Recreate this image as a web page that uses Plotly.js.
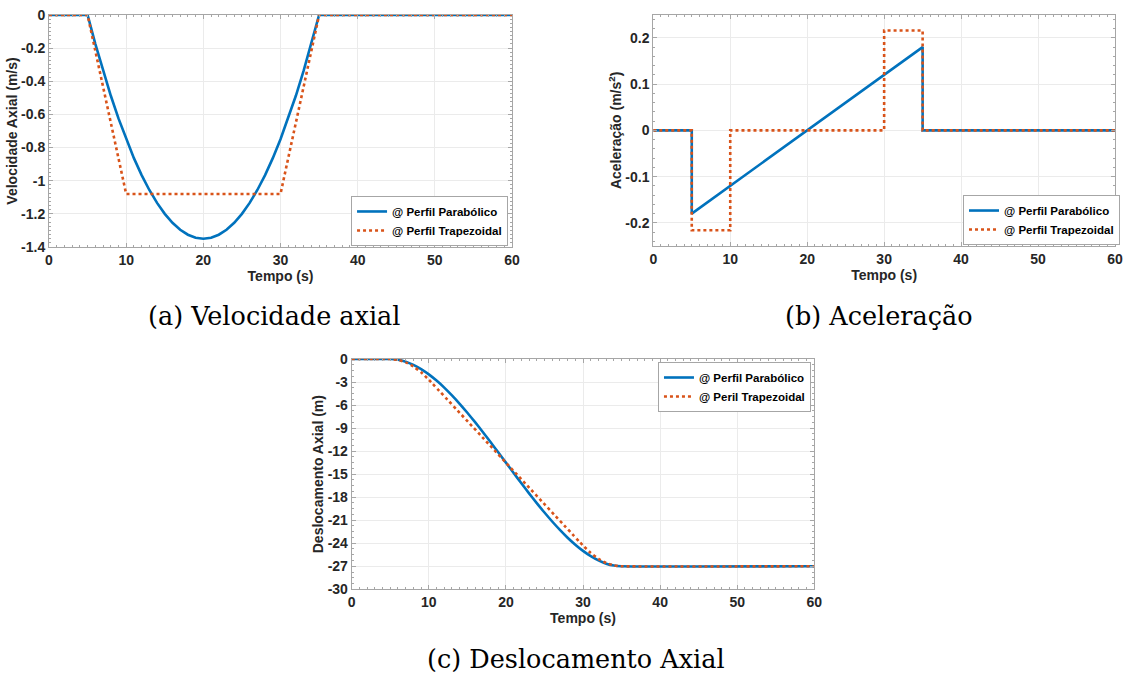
<!DOCTYPE html>
<html>
<head>
<meta charset="utf-8">
<script src="https://cdn.plot.ly/plotly-3.0.1.min.js"></script>
<style>
html,body{margin:0;padding:0;background:#fff;}
#chart{width:1132px;height:675px;}
</style>
</head>
<body>
<div id="chart"></div>
<script>
// ---- Data ----
// (a) Velocity
const velParT = [0,5,6,7,8,9,10,11,12,13,14,15,16,17,18,19,20,21,22,23,24,25,26,27,28,29,30,31,32,33,34,35,60];
const velParV = [0,0,-0.174,-0.336,-0.486,-0.624,-0.75,-0.864,-0.966,-1.056,-1.134,-1.2,-1.254,-1.296,-1.326,-1.344,-1.35,-1.344,-1.326,-1.296,-1.254,-1.2,-1.134,-1.056,-0.966,-0.864,-0.75,-0.624,-0.486,-0.336,-0.174,0,0];
const velTrapT = [0,5,10,30,35,60];
const velTrapV = [0,0,-1.08,-1.08,0,0];

// (b) Acceleration
const accParT = [0,5,5,35,35,60];
const accParV = [0,0,-0.18,0.18,0,0];
const accTrapT = [0,5,5,10,10,30,30,35,35,60];
const accTrapV = [0,0,-0.216,-0.216,0,0,0.216,0.216,0,0];

// (c) Displacement
const dispParT = [0,5,6,7,8,9,10,11,12,13,14,15,16,17,18,19,20,21,22,23,24,25,26,27,28,29,30,31,32,33,34,35,60];
const dispParV = [0,0,-0.09,-0.34,-0.76,-1.31,-2.0,-2.81,-3.72,-4.74,-5.83,-7.0,-8.23,-9.5,-10.82,-12.15,-13.5,-14.85,-16.18,-17.5,-18.77,-20.0,-21.17,-22.26,-23.28,-24.19,-25.0,-25.69,-26.24,-26.66,-26.91,-27.0,-27.0];
const dispTrapT = [0,5,6,7,8,9,10,30,31,32,33,34,35,60];
const dispTrapV = [0,0,-0.11,-0.43,-0.97,-1.73,-2.7,-24.3,-25.27,-26.03,-26.57,-26.89,-27.0,-27.0];

// Tick labels
const xTicks = [0,10,20,30,40,50,60];
const velTicks = [0,-0.2,-0.4,-0.6,-0.8,-1,-1.2,-1.4];
const velTickText = ['0','-0.2','-0.4','-0.6','-0.8','-1','-1.2','-1.4'];
const accTicks = [-0.2,-0.1,0,0.1,0.2];
const accTickText = ['-0.2','-0.1','0','0.1','0.2'];
const dispTicks = [0,-3,-6,-9,-12,-15,-18,-21,-24,-27,-30];
const dispTickText = ['0','-3','-6','-9','-12','-15','-18','-21','-24','-27','-30'];

const nameParab = '@ Perfil Parabólico';
const nameTrap = '@ Perfil Trapezoidal';
const nameTrapC = '@ Peril Trapezoidal';

// ---- Styles ----
const BLUE = '#0072BD', ORANGE = '#D95319';
const FONT = 'Liberation Sans, Arial, sans-serif';
const tickFont = {family: FONT, size: 14, color: '#262626', weight: 700};
const titleFont = {family: FONT, size: 14, color: '#262626', weight: 700};
const legFont = {family: FONT, size: 11.5, color: '#000', weight: 700};
const capFont = {family:'DejaVu Serif, Liberation Serif, serif', size:25.5, color:'#000'};

function xaxis(domain, anchor){
  return {domain: domain, anchor: anchor, range:[0,60], tickvals: xTicks, ticktext: xTicks.map(String),
    showgrid:true, gridcolor:'#ebebeb', gridwidth:1, zeroline:false, showline:true, linecolor:'#a6a6a6', linewidth:1,
    mirror:'ticks', ticks:'inside', ticklen:4, tickcolor:'#a6a6a6', tickfont: tickFont,
    minor:{ticks:'inside', dtick:1, ticklen:2, tickcolor:'#a6a6a6'},
    title:{text:'Tempo (s)', font:titleFont, standoff:1}};
}
function yaxis(domain, anchor, range, tv, tt, minor, title){
  return {domain: domain, anchor: anchor, range: range, tickvals: tv, ticktext: tt,
    showgrid:true, gridcolor:'#ebebeb', gridwidth:1, zeroline:false, showline:true, linecolor:'#a6a6a6', linewidth:1,
    mirror:'ticks', ticks:'inside', ticklen:4, tickcolor:'#a6a6a6', tickfont: tickFont,
    minor:{ticks:'inside', dtick:minor, tick0:0, ticklen:2, tickcolor:'#a6a6a6'},
    title:{text:title, font:titleFont, standoff:0}};
}

const lw = 2.6;
const traces = [
  {x: velParT, y: velParV, xaxis:'x', yaxis:'y', mode:'lines', name:nameParab, legend:'legend', line:{color:BLUE, width:lw}},
  {x: velTrapT, y: velTrapV, xaxis:'x', yaxis:'y', mode:'lines', name:nameTrap, legend:'legend', line:{color:ORANGE, width:lw, dash:'dot'}},
  {x: accParT, y: accParV, xaxis:'x2', yaxis:'y2', mode:'lines', name:nameParab, legend:'legend2', line:{color:BLUE, width:lw}},
  {x: accTrapT, y: accTrapV, xaxis:'x2', yaxis:'y2', mode:'lines', name:nameTrap, legend:'legend2', line:{color:ORANGE, width:lw, dash:'dot'}},
  {x: dispParT, y: dispParV, xaxis:'x3', yaxis:'y3', mode:'lines', line:{color:BLUE, width:lw, shape:'spline', smoothing:0.6}, name:nameParab, legend:'legend3'},
  {x: dispTrapT, y: dispTrapV, xaxis:'x3', yaxis:'y3', mode:'lines', line:{color:ORANGE, width:lw, dash:'dot', shape:'spline', smoothing:0.4}, name:nameTrapC, legend:'legend3'}
];

function legend(x, y, xa, ya){
  return {x:x, y:y, xanchor:xa, yanchor:ya, xref:'paper', yref:'paper', bgcolor:'#fff', bordercolor:'#a6a6a6', borderwidth:1,
    font:legFont, itemwidth:30, tracegroupgap:0};
}

const layout = {
  width:1132, height:675, margin:{l:0,r:0,t:0,b:0}, paper_bgcolor:'#fff', plot_bgcolor:'#fff',
  showlegend:true,
  xaxis: xaxis([0.0433,0.4523],'y'),
  yaxis: yaxis([0.6341,0.9778],'x',[-1.4,0],velTicks,velTickText,0.025,'Velocidade Axial (m/s)'),
  xaxis2: xaxis([0.5771,0.9850],'y2'),
  yaxis2: yaxis([0.6356,0.9782],'x2',[-0.25,0.25],accTicks,accTickText,0.02,'Aceleração (m/s<sup>2</sup>)'),
  xaxis3: xaxis([0.3107,0.7194],'y3'),
  yaxis3: yaxis([0.1270,0.4681],'x3',[-30,0],dispTicks,dispTickText,0.75,'Deslocamento Axial (m)'),
  legend: legend(0.4488,0.6356,'right','bottom'),
  legend2: legend(0.9894,0.6370,'right','bottom'),
  legend3: legend(0.7164,0.4637,'right','top'),
  annotations: [
    {text:'(a) Velocidade axial', x:274/1132, y:1-316/675, xref:'paper', yref:'paper', showarrow:false, xanchor:'center', yanchor:'middle', font:capFont},
    {text:'(b) Aceleração', x:879/1132, y:1-316/675, xref:'paper', yref:'paper', showarrow:false, xanchor:'center', yanchor:'middle', font:capFont},
    {text:'(c) Deslocamento Axial', x:576/1132, y:1-659/675, xref:'paper', yref:'paper', showarrow:false, xanchor:'center', yanchor:'middle', font:capFont}
  ]
};

Plotly.newPlot('chart', traces, layout, {displayModeBar:false, staticPlot:true});
</script>
</body>
</html>
